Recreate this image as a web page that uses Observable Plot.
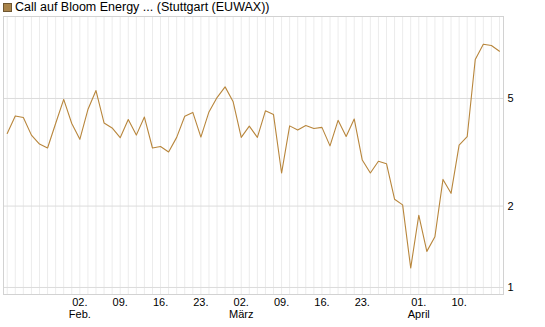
<!DOCTYPE html>
<html>
<head>
<meta charset="utf-8">
<script src="https://cdn.jsdelivr.net/npm/d3@7"></script>
<script src="https://cdn.jsdelivr.net/npm/@observablehq/plot@0.6"></script>
<style>
  html, body { margin: 0; padding: 0; background: #fff; }
  body { width: 545px; height: 327px; overflow: hidden; font-family: "Liberation Sans", Arial, sans-serif; }
  #title { height: 15px; font-size: 12.5px; line-height: 15px; color: #000; white-space: nowrap; position: relative; }
  #title .sw { position: absolute; left: 3px; top: 3px; width: 7px; height: 7px; background: #a8834a; border: 1px solid #6e5631; }
  #title .tx { position: absolute; left: 15px; top: 0px; }
  svg { display: block; }
</style>
</head>
<body>
<div id="title"><span class="sw"></span><span class="tx">Call auf Bloom Energy ... (Stuttgart (EUWAX))</span></div>
<div id="chart"></div>
<script>
// trading days (Stuttgart, 2026)
const dates = [
  "2026-01-20","2026-01-21","2026-01-22","2026-01-23","2026-01-26","2026-01-27","2026-01-28","2026-01-29","2026-01-30",
  "2026-02-02","2026-02-03","2026-02-04","2026-02-05","2026-02-06","2026-02-09","2026-02-10","2026-02-11","2026-02-12","2026-02-13",
  "2026-02-16","2026-02-17","2026-02-18","2026-02-19","2026-02-20","2026-02-23","2026-02-24","2026-02-25","2026-02-26","2026-02-27",
  "2026-03-02","2026-03-03","2026-03-04","2026-03-05","2026-03-06","2026-03-09","2026-03-10","2026-03-11","2026-03-12","2026-03-13",
  "2026-03-16","2026-03-17","2026-03-18","2026-03-19","2026-03-20","2026-03-23","2026-03-24","2026-03-25","2026-03-26","2026-03-27",
  "2026-03-30","2026-03-31","2026-04-01","2026-04-02","2026-04-07","2026-04-08","2026-04-09","2026-04-10",
  "2026-04-13","2026-04-14","2026-04-15","2026-04-16","2026-04-17"
];
// price (EUR)
const prices = [
  3.71, 4.31, 4.25, 3.66, 3.39, 3.28, 4.04, 4.96, 4.04,
  3.53, 4.55, 5.35, 4.06, 3.89, 3.58, 4.18, 3.66, 4.27, 3.28,
  3.32, 3.17, 3.59, 4.30, 4.44, 3.60, 4.46, 5.04, 5.52, 4.86,
  3.59, 3.95, 3.59, 4.50, 4.36, 2.65, 3.96, 3.82, 3.97, 3.87,
  3.91, 3.34, 4.15, 3.62, 4.20, 2.96, 2.65, 2.93, 2.87, 2.12,
  2.02, 1.18, 1.85, 1.36, 1.54, 2.51, 2.23, 3.36,
  3.61, 6.97, 7.94, 7.85, 7.48
];
// x-axis tick dates and labels
const tickDates = ["2026-02-02","2026-02-09","2026-02-16","2026-02-23","2026-03-02","2026-03-09","2026-03-16","2026-03-23","2026-04-01","2026-04-10"];
const tickLabels = ["02.\nFeb.","09.","16.","23.","02.\nMärz","09.","16.","23.","01.\nApril","10."];
// y-axis ticks
const yTicks = [1, 2, 5];

const data = dates.map((d, i) => ({i, date: d, value: prices[i]}));
const tickIdx = tickDates.map(d => dates.indexOf(d));
const labelOf = new Map(tickIdx.map((k, j) => [k, tickLabels[j]]));

const chart = Plot.plot({
  width: 545,
  height: 312,
  marginTop: 1,
  marginBottom: 33,
  marginLeft: 3,
  marginRight: 42,
  style: {fontFamily: "'Liberation Sans', Arial, sans-serif", fontSize: "11px", color: "#000", background: "#fff"},
  x: {type: "linear", domain: [-0.46, dates.length - 0.5]},
  y: {type: "log", domain: [0.942, 10.05]},
  marks: [
    Plot.ruleX(d3.range(dates.length), {stroke: "#ececec", strokeWidth: 1}),
    Plot.ruleY(yTicks, {stroke: "#dcdcdc", strokeWidth: 1}),
    Plot.frame({stroke: "#d2d2d2"}),
    Plot.lineY(data, {x: "i", y: "value", stroke: "#b8863c", strokeWidth: 1.1}),
    Plot.axisY({anchor: "right", ticks: yTicks, tickSize: 0, tickPadding: 4, tickFormat: d => String(d), label: null, fill: "#000"}),
    Plot.axisX({anchor: "bottom", ticks: tickIdx, tickSize: 0, tickPadding: 3, tickFormat: d => labelOf.get(d), label: null, lineHeight: 1.1, fill: "#000"})
  ]
});
document.getElementById("chart").appendChild(chart);
</script>
</body>
</html>
